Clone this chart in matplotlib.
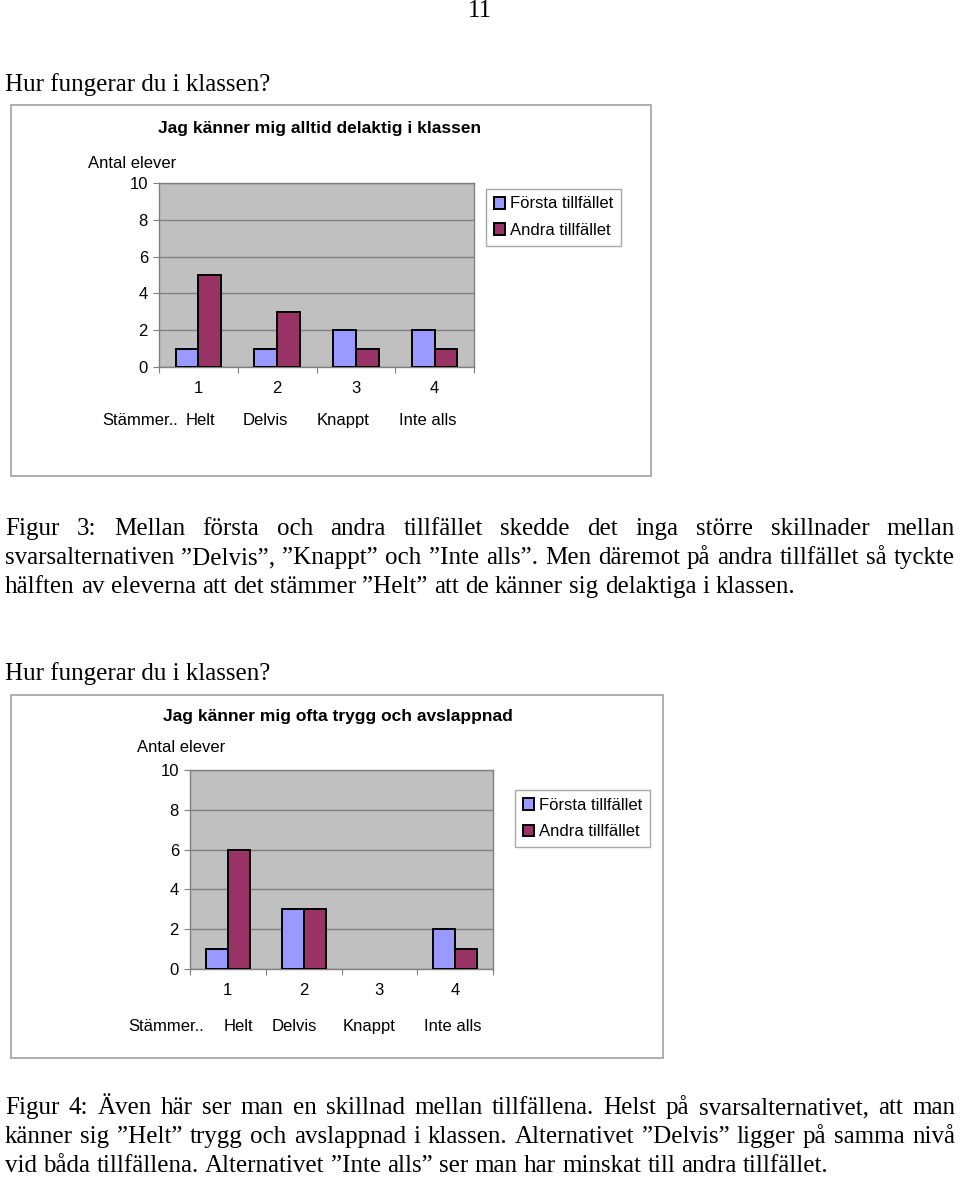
import numpy as np
import matplotlib
matplotlib.use("Agg")
import matplotlib.pyplot as plt
from matplotlib.patches import Rectangle

W, H = 960, 1178

# ---- data ----
categories = ["1", "2", "3", "4"]
answer_words = ["Stämmer..", "Helt", "Delvis", "Knappt", "Inte alls"]
series_names = ["Första tillfället", "Andra tillfället"]
y_ticks = [0, 2, 4, 6, 8, 10]

delaktig_forsta = [1, 1, 2, 2]
delaktig_andra = [5, 3, 1, 1]
trygg_forsta = [1, 3, 0, 2]
trygg_andra = [6, 3, 0, 1]

heading = "Hur fungerar du i klassen?"
fig3_lines = [
    "Figur 3: Mellan första och andra tillfället skedde det inga större skillnader mellan",
    "svarsalternativen ”Delvis”, ”Knappt” och ”Inte alls”. Men däremot på andra tillfället så tyckte",
    "hälften av eleverna att det stämmer ”Helt” att de känner sig delaktiga i klassen.",
]
fig4_lines = [
    "Figur 4: Även här ser man en skillnad mellan tillfällena. Helst på svarsalternativet, att man",
    "känner sig ”Helt” trygg och avslappnad i klassen. Alternativet ”Delvis” ligger på samma nivå",
    "vid båda tillfällena. Alternativet ”Inte alls” ser man har minskat till andra tillfället.",
]

# ---- style ----
C_BLUE = "#9999ff"
C_RED = "#993366"
C_PLOT = "#c0c0c0"
C_GRID = "#808080"
C_FRAME = "#a8a8a8"
SERIF = "Liberation Serif"
SANS = "Liberation Sans"
FS_BODY = 18
FS_CH = 12

fig = plt.figure(figsize=(W / 100, H / 100), dpi=100)
fig.patch.set_facecolor("white")
R = fig.canvas.get_renderer()


def fx(x):
    return x / W


def fy(y):
    return 1 - y / H


def body_text(x, y, s, **kw):
    # y = baseline, pixels from the top
    return fig.text(fx(x), fy(y), s, fontsize=FS_BODY, family=SERIF,
                    va="baseline", **kw)


def justify(lines, y_first, step, x0=5, x1=955):
    t1 = body_text(0, 500, "a a")
    t2 = body_text(0, 500, "aa")
    sp = t1.get_window_extent(R).width - t2.get_window_extent(R).width
    t1.remove()
    t2.remove()
    for i, line in enumerate(lines):
        y = y_first + i * step
        words = line.split(" ")
        texts = [body_text(0, y, w) for w in words]
        widths = [t.get_window_extent(R).width for t in texts]
        if i == len(lines) - 1:
            gap = sp  # last line not justified
        else:
            gap = (x1 - x0 - sum(widths)) / (len(words) - 1)
        x = x0
        for t, w in zip(texts, widths):
            t.set_x(fx(x))
            x += w + gap


def chart(frame, plot, legend_xy, title, title_xy, ylab_xy, forsta, andra,
          words_x, words_y):
    fl, ft, fr, fb = frame
    fig.patches.append(Rectangle((fx(fl), fy(fb)), (fr - fl) / W, (fb - ft) / H,
                                 transform=fig.transFigure, fill=False,
                                 edgecolor=C_FRAME, lw=1.3, zorder=0))
    l, t, r, b = plot
    ax = fig.add_axes([fx(l), fy(b), (r - l) / W, (b - t) / H])
    ax.set_facecolor(C_PLOT)
    x = np.arange(len(categories))
    bw = 0.29
    b1 = ax.bar(x - bw / 2, forsta, bw, color=C_BLUE, edgecolor="black", lw=1.4, zorder=3)
    b2 = ax.bar(x + bw / 2, andra, bw, color=C_RED, edgecolor="black", lw=1.4, zorder=3)
    for p in list(b1) + list(b2):
        if p.get_height() == 0:
            p.set_linewidth(0)
    ax.set_xlim(-0.5, len(categories) - 0.5)
    ax.set_ylim(0, 10)
    ax.set_yticks(y_ticks)
    ax.yaxis.grid(True, color=C_GRID, lw=1)
    ax.set_axisbelow(True)
    ax.set_xticks(np.arange(len(categories) + 1) - 0.5)
    ax.set_xticklabels([])
    ax.set_xticks(x, minor=True)
    ax.set_xticklabels(categories, minor=True)
    ax.tick_params(axis="x", which="major", length=4, color=C_GRID)
    ax.tick_params(axis="x", which="minor", length=0, pad=10, labelsize=FS_CH)
    ax.tick_params(axis="y", length=4, color=C_GRID, pad=4, labelsize=FS_CH)
    for lab in ax.get_xticklabels(minor=True) + ax.get_yticklabels():
        lab.set_family(SANS)
    for s in ax.spines.values():
        s.set_color(C_GRID)
        s.set_linewidth(1)

    fig.text(fx(title_xy[0]), fy(title_xy[1]), title, family=SANS, fontsize=12.5,
             fontweight="bold", ha="center", va="center")
    fig.text(fx(ylab_xy[0]), fy(ylab_xy[1]), "Antal elever", family=SANS,
             fontsize=FS_CH, ha="left", va="center")
    for w, xw in zip(answer_words, words_x):
        fig.text(fx(xw), fy(words_y), w, family=SANS, fontsize=FS_CH,
                 ha="left", va="baseline")

    leg = fig.legend([b1, b2], series_names, loc="upper left",
                     bbox_to_anchor=(fx(legend_xy[0]), fy(legend_xy[1])),
                     borderaxespad=0, frameon=True, fancybox=False,
                     edgecolor=C_FRAME, framealpha=1, handlelength=0.7,
                     handleheight=0.7, handletextpad=0.3, labelspacing=0.7,
                     borderpad=0.45, prop={"family": SANS, "size": FS_CH})
    leg.get_frame().set_linewidth(1.0)
    return ax


# ---- page text ----
fig.text(fx(480), fy(17), "11", fontsize=FS_BODY, family=SERIF, ha="center",
         va="baseline")
body_text(5, 91, heading)
body_text(5, 680, heading)

chart(frame=(11, 105, 651, 476), plot=(159, 183, 474, 367), legend_xy=(486, 189),
      title="Jag känner mig alltid delaktig i klassen", title_xy=(320, 129),
      ylab_xy=(88, 164), forsta=delaktig_forsta, andra=delaktig_andra,
      words_x=[102, 186, 243, 317, 399], words_y=425)

justify(fig3_lines, 535, 29)

chart(frame=(11, 695, 663, 1058), plot=(190, 770, 493, 969), legend_xy=(515, 790),
      title="Jag känner mig ofta trygg och avslappnad", title_xy=(338, 716),
      ylab_xy=(137, 747), forsta=trygg_forsta, andra=trygg_andra,
      words_x=[128, 224, 272, 343, 424], words_y=1031)

justify(fig4_lines, 1114, 29)

fig.savefig("out.png", dpi=100, facecolor="white")
